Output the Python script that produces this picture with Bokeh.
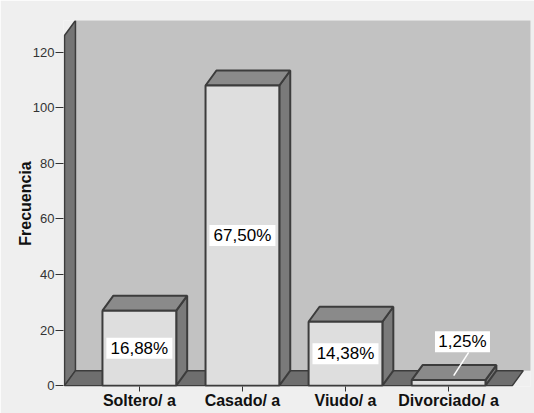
from bokeh.plotting import figure
from bokeh.models import FixedTicker
from bokeh.embed import file_html
from bokeh.resources import INLINE
from bokeh.core.properties import value

# ---- data ----
categories = ["Soltero/ a", "Casado/ a", "Viudo/ a", "Divorciado/ a"]
counts = [27, 108, 23, 2]
y_ticks = [0, 20, 40, 60, 80, 100, 120]

total = sum(counts)
pct_labels = []
for c in counts:
    hundredths = int(c * 10000 / total + 0.5)
    pct_labels.append(f"{hundredths // 100},{hundredths % 100:02d}%")

# ---- styling / geometry ----
FONT = "Liberation Sans"
BG = "#efefef"
WALL = "#c2c2c2"
SIDE = "#757575"
FLOOR = "#6e6e6e"
EDGE = "#3c3c3c"
FACE = "#dedede"
TOP = "#8a8a8a"
RSIDE = "#7a7a7a"

X0, X1 = 0.274, 4.795
DX, DY = 0.106, 5.4
AXTOP = 126
Y1 = AXTOP + DY
BW = 0.716

xs_pos = [i + 1 for i in range(len(categories))]

p = figure(width=534, height=413, x_range=(X0 - 0.01, X1), y_range=(-0.3, Y1),
           output_backend="svg", toolbar_location=None,
           min_border_left=63, min_border_right=4, min_border_top=20, min_border_bottom=27,
           background_fill_color=BG, border_fill_color=BG, outline_line_color=None)
p.grid.visible = False

# back wall
p.quad(left=X0 + DX, right=X1 + 1, bottom=DY, top=Y1 + 5, fill_color=WALL, line_color=None)
# side wall
p.patch([X0, X0, X0 + DX, X0 + DX], [0, AXTOP, AXTOP + DY, DY],
        fill_color=SIDE, line_color=EDGE, line_width=1.5)
# floor
XF = X1 - DX - 0.07
p.patch([X0, XF, XF + DX, X0 + DX], [0, 0, DY, DY],
        fill_color=FLOOR, line_color=EDGE, line_width=1.5)

# bars
lefts = [x - BW / 2 for x in xs_pos]
rights = [x + BW / 2 for x in xs_pos]
top_xs = [[l, r, r + DX, l + DX] for l, r in zip(lefts, rights)]
top_ys = [[v, v, v + DY, v + DY] for v in counts]
side_xs = [[r, r, r + DX, r + DX] for r in rights]
side_ys = [[0, v, v + DY, DY] for v in counts]
p.patches(side_xs, side_ys, fill_color=RSIDE, line_color=EDGE, line_width=2)
p.patches(top_xs, top_ys, fill_color=TOP, line_color=EDGE, line_width=2)
p.quad(left=lefts, right=rights, bottom=0, top=counts, fill_color=FACE,
       line_color=EDGE, line_width=2)

# labels
lab_x, lab_y, lead_x0, lead_y0, lead_x1, lead_y1 = [], [], [], [], [], []
for x, v in zip(xs_pos, counts):
    if v >= 10:
        lab_x.append(x)
        lab_y.append(v / 2)
    else:
        lab_x.append(x + 0.135)
        lab_y.append(v + 13.8)
        lead_x0.append(x + 0.195)
        lead_y0.append(v + 10.0)
        lead_x1.append(x + 0.05)
        lead_y1.append(v + 1.6)

p.segment(lead_x0, lead_y0, lead_x1, lead_y1, line_color="white", line_width=1.5)
p.rect(lab_x, lab_y, width=[11 * len(t) for t in pct_labels], height=21,
       width_units="screen", height_units="screen", fill_color="white", line_color=None)
p.text(lab_x, lab_y, text=pct_labels, text_align="center", text_baseline="middle",
       text_font=value(FONT), text_font_size="17px", text_color="black")

# axes
p.yaxis.ticker = FixedTicker(ticks=y_ticks)
p.yaxis.axis_label = "Frecuencia"
p.yaxis.axis_label_text_font = FONT
p.yaxis.axis_label_text_font_style = "bold"
p.yaxis.axis_label_text_font_size = "16px"
p.yaxis.axis_label_text_color = "#111111"
p.yaxis.axis_label_standoff = -4
p.yaxis.major_label_text_font = FONT
p.yaxis.major_label_text_font_size = "13px"
p.yaxis.major_label_text_color = "#333333"
p.yaxis.major_label_standoff = 1
p.yaxis.major_tick_out = 8
p.yaxis.major_tick_in = 0
p.yaxis.minor_tick_out = 0
p.yaxis.minor_tick_in = 0
p.yaxis.axis_line_color = None
p.yaxis.major_tick_line_color = "#333333"

p.xaxis.ticker = FixedTicker(ticks=xs_pos)
p.xaxis.major_label_overrides = {x: c for x, c in zip(xs_pos, categories)}
p.xaxis.major_label_text_font = FONT
p.xaxis.major_label_text_font_style = "bold"
p.xaxis.major_label_text_font_size = "16px"
p.xaxis.major_label_text_color = "#111111"
p.xaxis.major_label_standoff = 0
p.xaxis.major_tick_out = 5
p.xaxis.major_tick_in = 0
p.xaxis.minor_tick_out = 0
p.xaxis.minor_tick_in = 0
p.xaxis.axis_line_color = None
p.xaxis.major_tick_line_color = "#333333"

open("out.html", "w").write(file_html(p, INLINE))
